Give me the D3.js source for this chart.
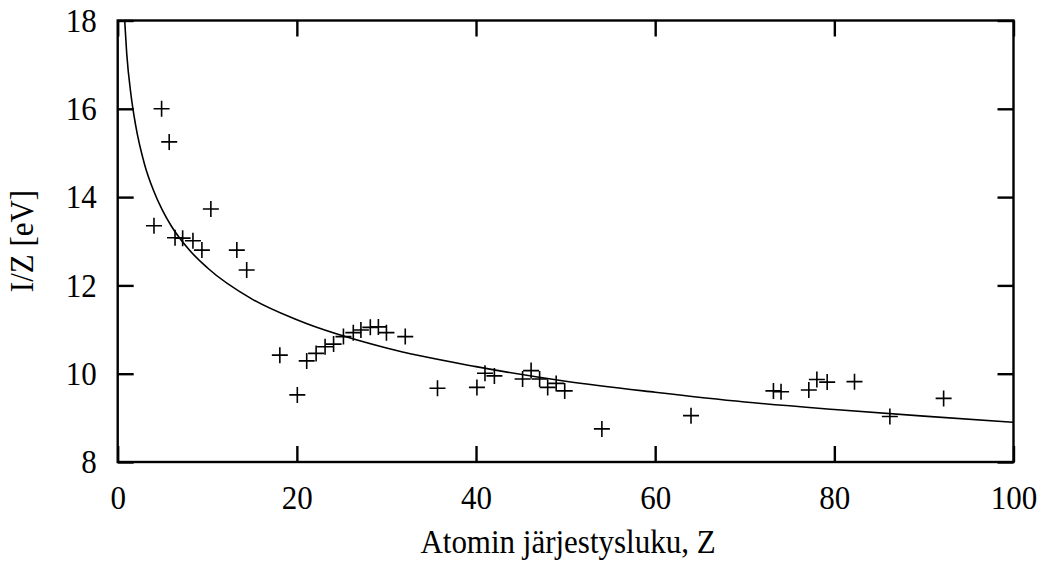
<!DOCTYPE html>
<html>
<head>
<meta charset="utf-8">
<script src="https://cdn.jsdelivr.net/npm/d3@7"></script>
<style>
  html, body { margin: 0; padding: 0; background: #fff; }
  svg { display: block; }
  text { font-family: "Liberation Serif", "Times New Roman", serif; fill: #000; }
  .axis text, .xtitle { transform-box: fill-box; transform-origin: center; transform: scaleY(1.08); }
</style>
</head>
<body>
<svg id="chart" width="1045" height="561"></svg>
<script>
// ---- data ----
const pointZ = [4.05, 4.9, 5.75, 6.4, 7.25, 8.4, 9.4, 10.4, 13.3, 14.4,
  18.1, 20.05, 21.1, 22.15, 23.15, 24.1, 25.2, 26.3, 27.15, 28.2, 29.1, 30.0,
  32.1, 35.7, 40.1, 41.0, 42.05, 45.2, 46.15, 47.1, 48.0, 48.95, 49.9, 54.05,
  64.0, 73.2, 74.05, 77.15, 78.05, 79.2, 82.25, 86.2, 92.2];
const pointIZ = [13.35, 16.0, 15.25, 13.08, 13.07, 13.01, 12.8, 13.73, 12.8, 12.35,
  10.42, 9.52, 10.29, 10.46, 10.61, 10.67, 10.84, 10.93, 10.99, 11.05, 11.06, 10.93,
  10.84, 9.67, 9.69, 10.01, 9.95, 9.88, 10.07, 9.88, 9.69, 9.78, 9.61, 8.75,
  9.05, 9.61, 9.59, 9.63, 9.87, 9.81, 9.82, 9.03, 9.44];
const curveZ = [0.7, 0.78, 1, 1.5, 2, 3, 4, 5, 6, 8, 10, 15, 20, 30, 40, 50, 60, 70, 80, 90, 100];
const curveIZ = [18.3, 18.0, 17.27, 16.29, 15.63, 14.74, 14.15, 13.7, 13.34, 12.8, 12.4,
  11.69, 11.22, 10.58, 10.16, 9.83, 9.58, 9.36, 9.19, 9.04, 8.9];
const xTicks = [0, 20, 40, 60, 80, 100];
const yTicks = [8, 10, 12, 14, 16, 18];
const xTitle = "Atomin järjestysluku, Z";
const yTitle = "I/Z [eV]";

(function () {
// ---- layout ----
const svg = d3.select("#chart");
const pLeft = 117.7, pRight = 1013.5, pTop = 20.5, pBottom = 462;
const x = d3.scaleLinear().domain([0, 100]).range([pLeft, pRight]);
const y = d3.scaleLinear().domain([8, 18]).range([pBottom, pTop]);
const tickLen = 16;
const fontSize = 31;

// clip path
svg.append("defs").append("clipPath").attr("id", "plotclip")
  .append("rect").attr("x", pLeft).attr("y", pTop)
  .attr("width", pRight - pLeft).attr("height", pBottom - pTop);

// curve
const curveData = curveZ.map((z, i) => [z, curveIZ[i]]);
svg.append("path")
  .datum(curveData)
  .attr("clip-path", "url(#plotclip)")
  .attr("fill", "none")
  .attr("stroke", "#000")
  .attr("stroke-width", 1.6)
  .attr("d", d3.line().x(d => x(d[0])).y(d => y(d[1])).curve(d3.curveMonotoneX));

// points '+'
const pts = pointZ.map((z, i) => [z, pointIZ[i]]);
const ps = 8;
const g = svg.append("g").attr("stroke", "#000").attr("stroke-width", 1.6);
g.selectAll("path.pt").data(pts).join("path")
  .attr("class", "pt")
  .attr("d", d => {
    const cx = x(d[0]), cy = y(d[1]);
    return `M${cx - ps},${cy}H${cx + ps}M${cx},${cy - ps}V${cy + ps}`;
  });

// axes (ticks inward, mirrored)
const axisStroke = 2.4;
const bottomAxis = svg.append("g").attr("class", "axis").attr("transform", `translate(0,${pBottom})`)
  .call(d3.axisBottom(x).tickValues(xTicks).tickSizeInner(-tickLen).tickSizeOuter(0).tickPadding(24));
const topAxis = svg.append("g").attr("class", "axis").attr("transform", `translate(0,${pTop})`)
  .call(d3.axisTop(x).tickValues(xTicks).tickSizeInner(-tickLen).tickSizeOuter(0).tickFormat(""));
const leftAxis = svg.append("g").attr("class", "axis").attr("transform", `translate(${pLeft},0)`)
  .call(d3.axisLeft(y).tickValues(yTicks).tickSizeInner(-tickLen).tickSizeOuter(0).tickPadding(21));
const rightAxis = svg.append("g").attr("class", "axis").attr("transform", `translate(${pRight},0)`)
  .call(d3.axisRight(y).tickValues(yTicks).tickSizeInner(-tickLen).tickSizeOuter(0).tickFormat(""));

[bottomAxis, topAxis, leftAxis, rightAxis].forEach(a => {
  a.select(".domain").remove();
  a.selectAll(".tick line").attr("stroke", "#000").attr("stroke-width", axisStroke);
  a.selectAll("text").attr("font-size", fontSize)
    .attr("font-family", "'Liberation Serif', 'Times New Roman', serif").attr("fill", "#000");
});
bottomAxis.selectAll("text").attr("dy", "0.71em");

// frame
svg.append("rect").attr("x", pLeft).attr("y", pTop)
  .attr("width", pRight - pLeft).attr("height", pBottom - pTop)
  .attr("fill", "none").attr("stroke", "#000").attr("stroke-width", axisStroke);

// titles
svg.append("text").attr("class", "xtitle").attr("x", 568).attr("y", 552).attr("text-anchor", "middle")
  .attr("font-size", fontSize).text(xTitle);
svg.append("text").attr("transform", "translate(33,241) rotate(-90) scale(1,1.08)")
  .attr("text-anchor", "middle").attr("font-size", fontSize).text(yTitle);
})();
</script>
</body>
</html>
